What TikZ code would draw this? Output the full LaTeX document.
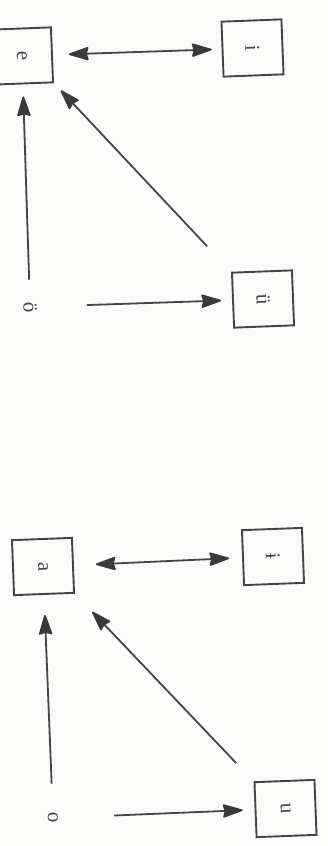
\documentclass[tikz,border=0pt]{standalone}
\usepackage{fontspec}
\usepackage{graphicx}
\setmainfont{Liberation Serif}
\usetikzlibrary{arrows.meta}
\definecolor{ink}{HTML}{454545}
\definecolor{headink}{HTML}{3A3A3A}
\definecolor{paper}{HTML}{FBFBFA}
\tikzset{
  vbox/.style={draw=ink, line width=1.9pt, rotate=2.2, minimum width=60pt, minimum height=55pt, inner sep=0pt, text=ink, font=\fontsize{21}{21}\selectfont},
  vtext/.style={inner sep=0pt, rotate=2.2, text=ink, font=\fontsize{21}{21}\selectfont},
  conn/.style={draw=ink, line width=1.8pt, -{Stealth[length=22pt,width=14pt,inset=2pt,round,color=headink]}},
  dconn/.style={draw=ink, line width=1.8pt, {Stealth[length=22pt,width=14pt,inset=2pt,round,color=headink]}-{Stealth[length=22pt,width=14pt,inset=2pt,round,color=headink]}}
}
\newcommand{\vl}[1]{\rotatebox{-90}{#1}}
\begin{document}
\begin{tikzpicture}[x=1pt,y=-1pt]
\useasboundingbox (0,0) rectangle (328,846);
\clip (0,0) rectangle (328,846);
\fill[paper] (0,0) rectangle (328,846);
% upper group
\node[vbox] (e) at (22,56) {\vl{e}};
\node[vbox] (i) at (252.5,48) {\vl{i}};
\node[vbox] (ue) at (263,299) {\vl{ü}};
\node[vtext] (oe) at (30,307) {\vl{ö}};
% lower group
\node[vbox] (a) at (43,566.5) {\vl{a}};
\node[vbox] (ib) at (273,556.5) {\vl{ɨ}};
\node[vtext] (o) at (53,818) {\vl{o}};
\node[vbox] (u) at (285.5,808.5) {\vl{u}};
% connectors upper
\draw[dconn, shorten <=16pt, shorten >=10pt] (e.east) -- (i.west);
\draw[conn, shorten <=22pt, shorten >=12pt] (oe) -- (e);
\draw[conn, shorten <=35pt, shorten >=10pt] (ue.north west) -- (e.south east);
\draw[conn, shorten <=50pt, shorten >=11pt] (oe.east) -- (ue.west);
% connectors lower
\draw[dconn, shorten <=22pt, shorten >=13pt] (a.east) -- (ib.west);
\draw[conn, shorten <=29pt, shorten >=20pt] (o) -- (a);
\draw[conn, shorten <=25pt, shorten >=25pt] (u.north west) -- (a.south east);
\draw[conn, shorten <=56pt, shorten >=12pt] (o.east) -- (u.west);
\end{tikzpicture}
\end{document}
